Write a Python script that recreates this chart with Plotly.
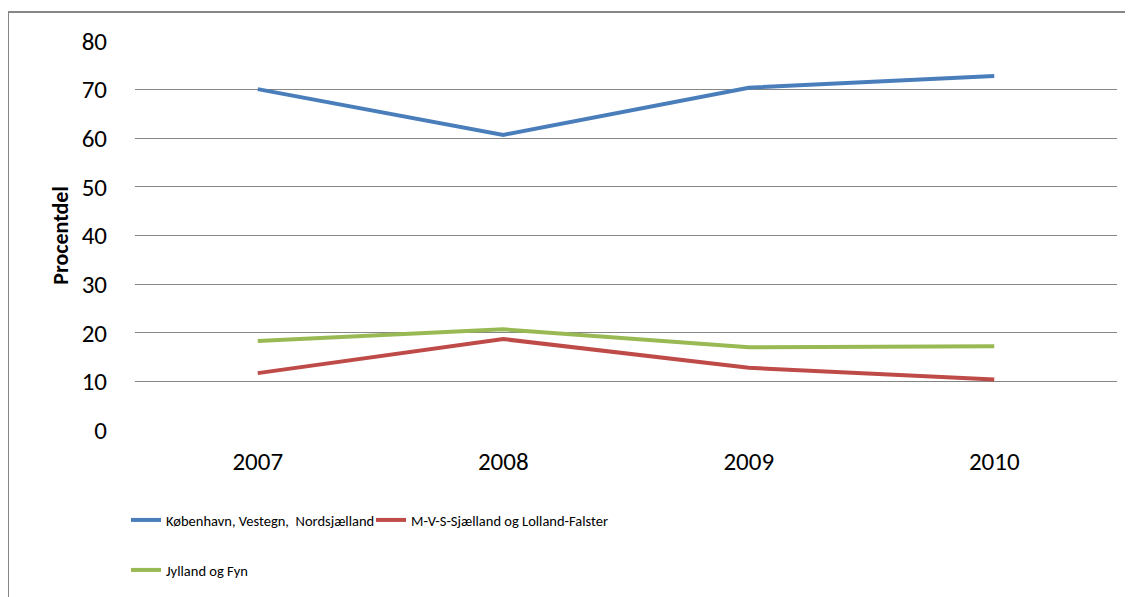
import plotly.graph_objects as go

years = ["2007", "2008", "2009", "2010"]
series_names = ["København, Vestegn,  Nordsjælland", "M-V-S-Sjælland og Lolland-Falster", "Jylland og Fyn"]
kbh = [70.1, 60.7, 70.4, 72.8]
mvs = [11.7, 18.7, 12.8, 10.4]
jyl = [18.3, 20.7, 17.0, 17.2]
colors = ["#4A7EBB", "#BE4B48", "#98B954"]
y_ticks = [0, 10, 20, 30, 40, 50, 60, 70, 80]

FONT = "Carlito, Calibri, Lato, Roboto, sans-serif"

fig = go.Figure()
for name, vals, col, lg in zip(series_names, [kbh, mvs, jyl], colors, ["legend", "legend", "legend2"]):
    fig.add_trace(go.Scatter(x=years, y=vals, mode="lines", name=name,
                             line=dict(color=col, width=4), legend=lg))

W, H = 1133, 597
OFF = 8  # page body margin in the browser
# plot area in screen pixels: x 135..1117, y 41..430
SL, SR, ST, SB = 135, 1117, 41, 430
L = SL - OFF
T = ST - OFF
R = W - (SR - OFF)
B = H - (SB - OFF)
pw, ph = SR - SL, SB - ST

def px_x(p):
    return (p - SL) / pw

def px_y(p):
    return (SB - p) / ph

fig.update_layout(
    width=W, height=H,
    margin=dict(l=L, r=R, t=T, b=B, autoexpand=False),
    paper_bgcolor="white", plot_bgcolor="white",
    font=dict(family=FONT, size=25, color="#000000"),
    showlegend=True,
    xaxis=dict(type="category", range=[-0.5, 3.5], showgrid=False, showline=False,
               ticks="", tickfont=dict(size=25), zeroline=False, ticklabelstandoff=14),
    yaxis=dict(range=[0, 80], tickvals=y_ticks, showgrid=True, gridcolor="#868686",
               gridwidth=1, zeroline=False, showline=False, ticks="",
               tickfont=dict(size=25), ticklabelstandoff=27,
               title=dict(text="<b>Procentdel</b>", font=dict(size=22), standoff=6)),
    legend=dict(orientation="h", x=px_x(126), xanchor="left", y=px_y(520), yanchor="middle",
                font=dict(size=14.5), entrywidth=200, bgcolor="rgba(0,0,0,0)"),
    legend2=dict(orientation="h", x=px_x(126), xanchor="left", y=px_y(570), yanchor="middle",
                 font=dict(size=14.5), bgcolor="rgba(0,0,0,0)"),
    shapes=[dict(type="rect", xref="paper", yref="paper",
                 x0=px_x(8), x1=px_x(1130), y0=px_y(620), y1=px_y(12),
                 line=dict(color="#868686", width=2), layer="below")],
)

fig.write_html("out.html")
